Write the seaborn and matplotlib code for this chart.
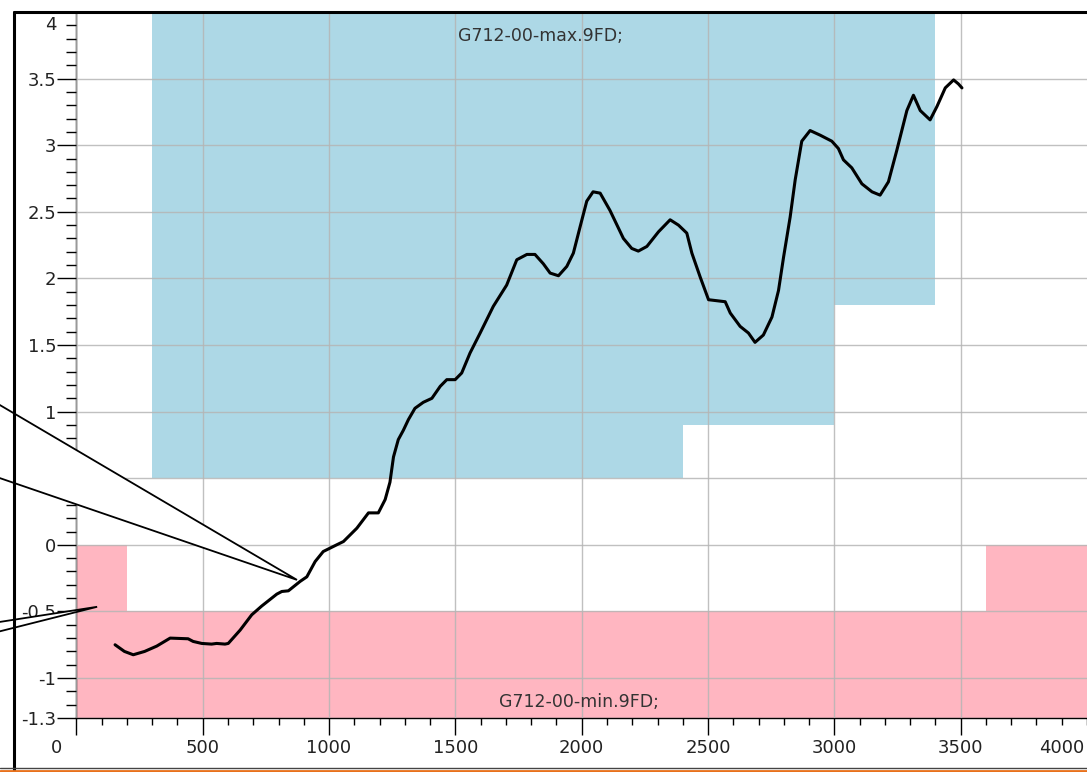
import numpy as np
import pandas as pd
import matplotlib
matplotlib.use('Agg')
import matplotlib.pyplot as plt
import seaborn as sns
from matplotlib.ticker import MultipleLocator, FixedLocator
from matplotlib.lines import Line2D
from matplotlib.patches import Polygon

# measured curve (distance, value)
dist = [153, 190, 225, 270, 318, 371, 442, 462, 496, 535, 555, 588, 601, 648, 694,
        733, 793, 813, 839, 885, 912, 945, 977, 1030, 1057, 1110, 1156, 1195, 1222,
        1241, 1255, 1274, 1294, 1314, 1340, 1373, 1407, 1440, 1466, 1499, 1525, 1558,
        1598, 1650, 1703, 1743, 1783, 1815, 1848, 1875, 1908, 1941, 1967, 1994, 2020,
        2045, 2073, 2112, 2165, 2198, 2224, 2258, 2304, 2350, 2383, 2416, 2436, 2469,
        2502, 2568, 2588, 2627, 2660, 2686, 2719, 2753, 2779, 2799, 2825, 2845, 2871,
        2904, 2944, 2990, 3016, 3036, 3069, 3109, 3149, 3181, 3214, 3247, 3287, 3313,
        3340, 3379, 3406, 3439, 3472, 3491, 3505]
value = [-0.75, -0.80, -0.825, -0.80, -0.76, -0.70, -0.705, -0.725, -0.74, -0.745, -0.74,
         -0.745, -0.74, -0.64, -0.525, -0.46, -0.37, -0.35, -0.345, -0.275, -0.24, -0.125,
         -0.05, 0.0, 0.025, 0.125, 0.24, 0.24, 0.34, 0.47, 0.66, 0.79, 0.86, 0.94, 1.025,
         1.07, 1.10, 1.19, 1.24, 1.24, 1.29, 1.44, 1.59, 1.79, 1.95, 2.14, 2.18, 2.18, 2.11,
         2.04, 2.02, 2.09, 2.19, 2.39, 2.58, 2.65, 2.64, 2.51, 2.30, 2.225, 2.205, 2.24,
         2.35, 2.44, 2.40, 2.34, 2.19, 2.01, 1.84, 1.825, 1.74, 1.64, 1.59, 1.52, 1.575,
         1.71, 1.91, 2.16, 2.46, 2.74, 3.03, 3.11, 3.075, 3.03, 2.975, 2.89, 2.83, 2.71,
         2.65, 2.625, 2.725, 2.96, 3.26, 3.375, 3.26, 3.19, 3.29, 3.43, 3.49, 3.46, 3.43]

# limit bands (step edges)
max_x = [300, 2400, 3000, 3400]
max_lower = [0.5, 0.9, 1.8, 1.8]
min_x = [0, 200, 3600, 4000]
min_upper = [0.0, -0.5, 0.0, 0.0]

x_ticks = [0, 500, 1000, 1500, 2000, 2500, 3000, 3500]
x_labels = ['', '500', '1000', '1500', '2000', '2500', '3000', '3500']
y_ticks = [-1.3, -1, -0.5, 0, 0.5, 1, 1.5, 2, 2.5, 3, 3.5]
y_labels = ['-1.3', '-1', '-0.5', '0', '0.5', '1', '1.5', '2', '2.5', '3', '3.5']

sns.set_style('white')
plt.rcParams['font.family'] = ['DejaVu Sans']

df = pd.DataFrame({'dist': dist, 'value': value})

fig = plt.figure(figsize=(10.87, 7.72), dpi=100)
ax = fig.add_axes([0.0703, 0.0699, 0.9297, 0.9146])

ax.fill_between(max_x, max_lower, 4.3, step='post', color='#ADD8E6', lw=0, zorder=0.5)
ax.fill_between(min_x, min_upper, -1.5, step='post', color='#FFB6C1', lw=0, zorder=0.5)

sns.lineplot(data=df, x='dist', y='value', color='black', linewidth=2.2,
             sort=False, estimator=None, ax=ax, zorder=6)

ax.set_xlim(0, 4000)
ax.set_ylim(-1.3, 4.0)
ax.set_xlabel('')
ax.set_ylabel('')

ax.xaxis.set_major_locator(FixedLocator(x_ticks))
ax.set_xticklabels(x_labels)
ax.xaxis.set_minor_locator(MultipleLocator(100))
ax.yaxis.set_major_locator(FixedLocator(y_ticks))
ax.set_yticklabels(y_labels)
ax.yaxis.set_minor_locator(MultipleLocator(0.1))

ax.tick_params(axis='x', which='major', direction='out', length=12, width=1,
               color='black', pad=3, labelsize=13, labelcolor='#222222', bottom=True)
ax.tick_params(axis='x', which='minor', direction='out', length=5, width=1,
               color='black', bottom=True)
ax.tick_params(axis='y', which='major', direction='out', length=14, width=1,
               color='black', pad=0.5, labelsize=13, labelcolor='#222222', left=True)
ax.tick_params(axis='y', which='minor', direction='out', length=7, width=1,
               color='black', left=True)

ax.set_axisbelow(False)
ax.grid(True, which='major', color='#b5b5b5', linewidth=1, alpha=0.85)

for s in ['left', 'bottom']:
    ax.spines[s].set_color('black')
    ax.spines[s].set_linewidth(1)
ax.spines['right'].set_visible(False)
ax.spines['top'].set_visible(False)

# shifted edge labels
ax.annotate('0', xy=(0, 0), xycoords=('data', 'axes fraction'), xytext=(-14, -15),
            textcoords='offset points', ha='center', va='top', fontsize=13, color='#222222')
ax.annotate('4000', xy=(3900, 0), xycoords=('data', 'axes fraction'), xytext=(0, -15),
            textcoords='offset points', ha='center', va='top', fontsize=13, color='#222222')
ax.annotate('4', xy=(0, 3.9), xycoords=('axes fraction', 'data'), xytext=(-14.5, 0),
            textcoords='offset points', ha='right', va='center', fontsize=13, color='#222222')

# band labels
ax.text(1838, 3.82, 'G712-00-max.9FD;', ha='center', va='center', fontsize=12.5,
        color='#333333', zorder=7)
ax.text(1990, -1.178, 'G712-00-min.9FD;', ha='center', va='center', fontsize=12.5,
        color='#333333', zorder=7)

# callout balloons coming from the left
ax.add_patch(Polygon([(-420, 1.18), (873, -0.263), (-420, 0.577)], closed=True,
                     facecolor='white', edgecolor='black', lw=1.3, clip_on=False, zorder=5))
ax.add_patch(Polygon([(-420, -0.613), (82, -0.465), (-420, -0.705)], closed=True,
                     facecolor='white', edgecolor='black', lw=1.3, clip_on=False, zorder=5))

# window frame
fig.add_artist(Line2D([0.0129, 0.0129], [0.0, 0.9845], transform=fig.transFigure,
                      color='black', lw=2.2))
fig.add_artist(Line2D([0.0129, 1.0], [0.9845, 0.9845], transform=fig.transFigure,
                      color='black', lw=2.2))
fig.add_artist(Line2D([0.0, 1.0], [0.0052, 0.0052], transform=fig.transFigure,
                      color='#444444', lw=1))
fig.add_artist(Line2D([0.0, 1.0], [0.0013, 0.0013], transform=fig.transFigure,
                      color='#e8711c', lw=2))

fig.savefig('out.png', dpi=100)
